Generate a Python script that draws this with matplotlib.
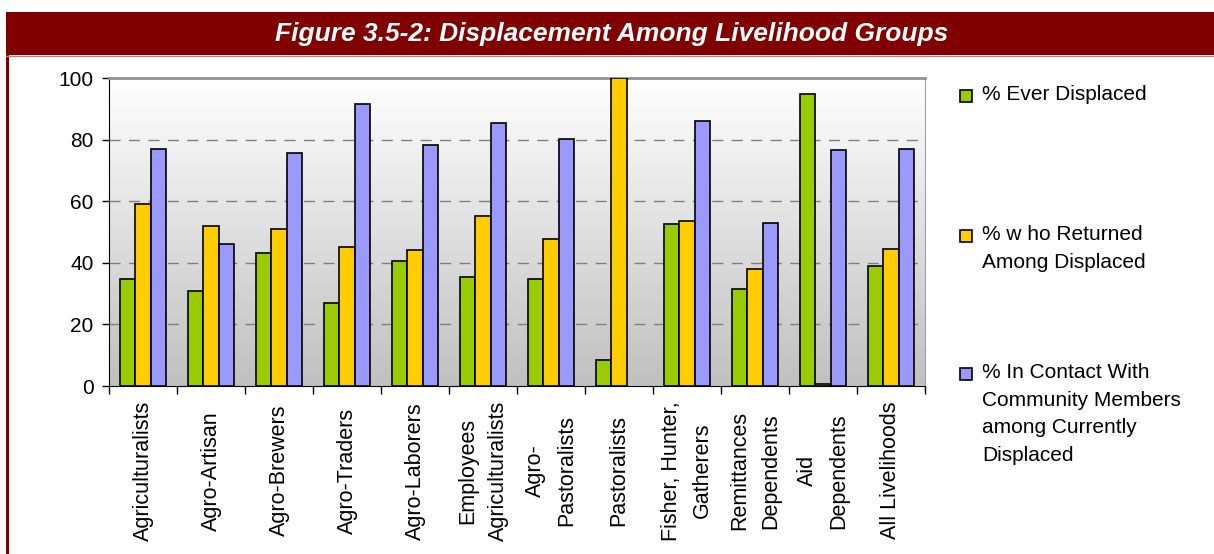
import numpy as np
import matplotlib
matplotlib.use("Agg")
import matplotlib.pyplot as plt
from matplotlib.patches import Rectangle

plt.rcParams['font.family'] = ['Liberation Sans', 'DejaVu Sans']

groups = ['Agriculturalists', 'Agro-Artisan', 'Agro-Brewers', 'Agro-Traders',
          'Agro-Laborers', 'Employees\nAgriculturalists', 'Agro-\nPastoralists',
          'Pastoralists', 'Fisher, Hunter,\nGatherers', 'Remittances\nDependents',
          'Aid\nDependents', 'All Livelihoods']
ever_displaced = [34.9, 31.0, 43.3, 27.0, 40.7, 35.5, 34.9, 8.3, 52.5, 31.6, 94.7, 38.8]
returned = [59.0, 51.8, 51.1, 45.2, 44.0, 55.1, 47.8, 100.0, 53.7, 38.1, 0.6, 44.6]
in_contact = [77.0, 46.0, 75.8, 91.4, 78.3, 85.4, 80.2, np.nan, 86.1, 53.0, 76.5, 77.0]

series_labels = ['% Ever Displaced', '% w ho Returned\nAmong Displaced',
                 '% In Contact With\nCommunity Members\namong Currently\nDisplaced']
colors = ['#99cc00', '#ffcc00', '#9999ff']

W, H = 1214, 554
fig = plt.figure(figsize=(W / 100, H / 100), dpi=100)

# title bar
fig.patches.append(Rectangle((6 / W, 1 - 55 / H), 1, 43 / H, transform=fig.transFigure,
                             facecolor='#800000', edgecolor='none', zorder=0))
fig.patches.append(Rectangle((6 / W, 0), 2.5 / W, 1 - 55 / H, transform=fig.transFigure,
                             facecolor='#800000', edgecolor='none', zorder=0))
fig.lines.append(plt.Line2D([6 / W, 1], [1 - 55.5 / H, 1 - 55.5 / H], transform=fig.transFigure,
                            color='#c08080', lw=1))
fig.text(612 / W, 1 - 34 / H, 'Figure 3.5-2: Displacement Among Livelihood Groups',
         color='white', fontsize=19, fontweight='bold', fontstyle='italic',
         ha='center', va='center')

ax = fig.add_axes([109 / W, 1 - 386 / H, (925 - 109) / W, (386 - 78) / H])

# gradient background
grad = np.linspace(1, 0, 256).reshape(-1, 1)
ax.imshow(grad, extent=[0, len(groups), 0, 100], aspect='auto', origin='upper',
          cmap=matplotlib.colors.LinearSegmentedColormap.from_list('g', ['#c0c0c0', '#ffffff']),
          zorder=0)

x = np.arange(len(groups)) + 0.5
bw = 0.225
for i, (vals, c) in enumerate(zip([ever_displaced, returned, in_contact], colors)):
    ax.bar(x + (i - 1) * bw, vals, width=bw, color=c, edgecolor='black', linewidth=1.2, zorder=3)

ax.set_xlim(0, len(groups))
ax.set_ylim(0, 100)
ax.set_yticks([0, 20, 40, 60, 80, 100])
for v in [20, 40, 60, 80]:
    ax.axhline(v, color='#808080', lw=1, ls=(0, (8, 6)), zorder=1)

ax.set_xticks(np.arange(len(groups) + 1))
ax.set_xticklabels([])
ax.tick_params(axis='x', direction='out', length=6, width=1, color='black')
ax.tick_params(axis='y', direction='out', length=5, width=1, color='black', labelsize=15, pad=6)

for xi, lab in zip(x, groups):
    ax.text(xi, -27.5, lab, rotation=90, ha='center', va='center', multialignment='center',
            fontsize=15.5, linespacing=1.65, transform=ax.transData, clip_on=False)

ax.spines['left'].set_color('black')
ax.spines['bottom'].set_color('black')
ax.spines['top'].set_color('#909090')
ax.spines['top'].set_linewidth(2)
ax.spines['right'].set_color('#a0a0a0')

# legend
legend_y = [96, 236, 374]
for lab, c, ly in zip(series_labels, colors, legend_y):
    fig.patches.append(Rectangle((960 / W, 1 - (ly + 6) / H), 12 / W, 12 / H,
                                 transform=fig.transFigure, facecolor=c,
                                 edgecolor='black', linewidth=1.2))
    fig.text(982 / W, 1 - (ly - 11) / H, lab, fontsize=15, ha='left', va='top',
             linespacing=1.58)

fig.savefig('out.png', dpi=100, facecolor='white')
